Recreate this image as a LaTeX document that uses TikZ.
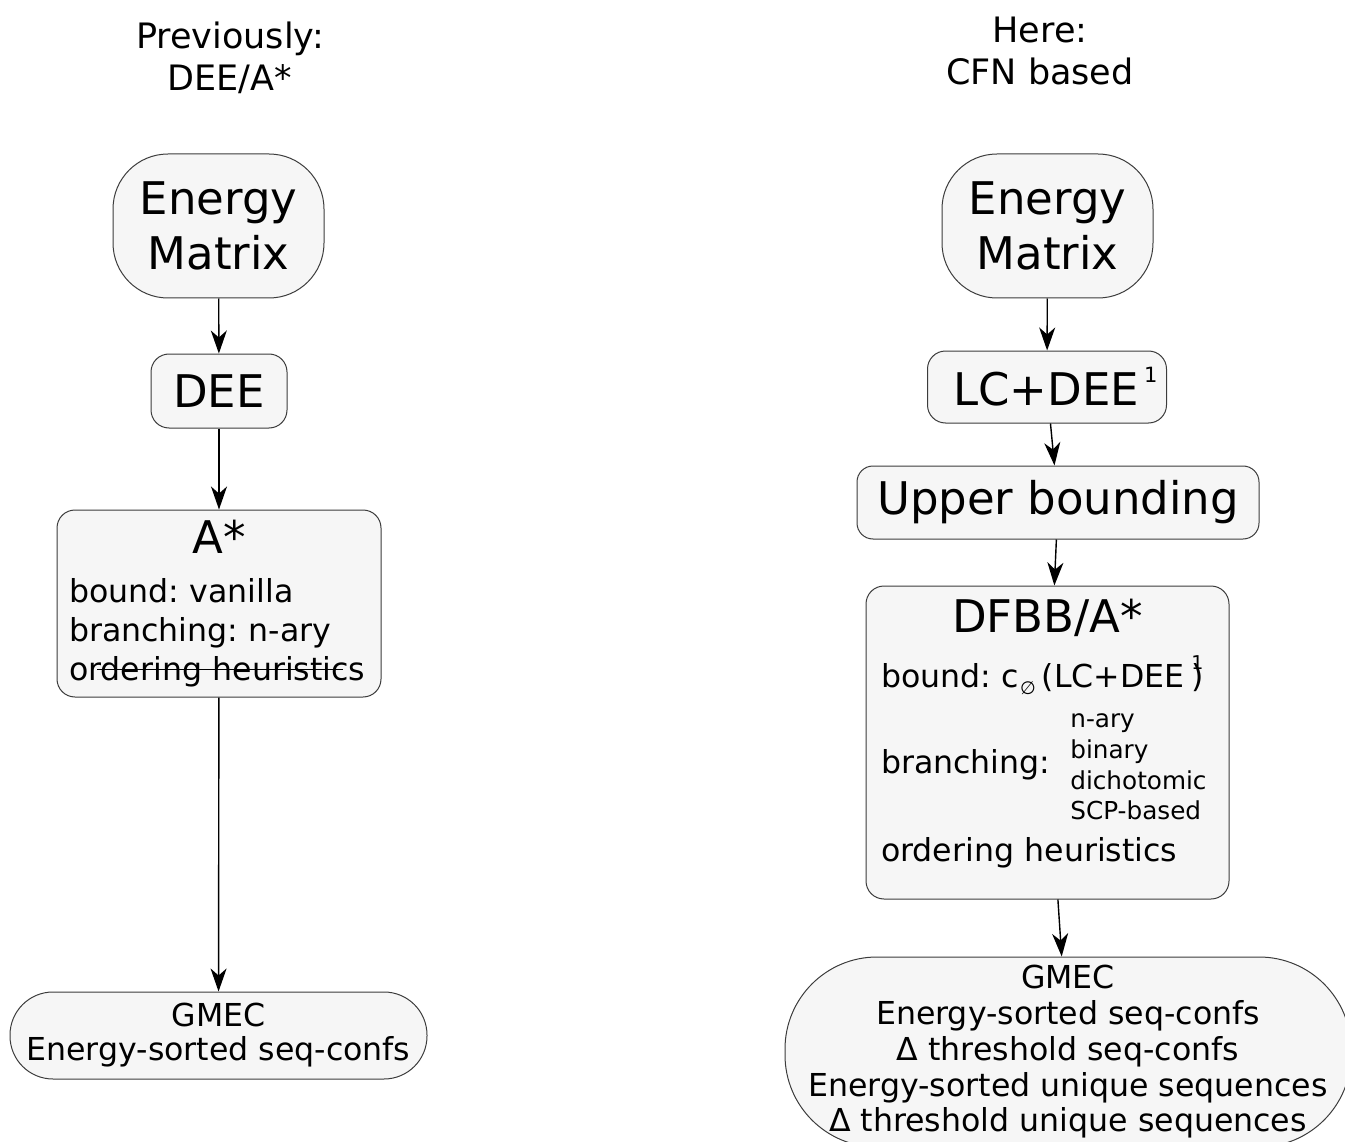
\documentclass[tikz,border=0pt]{standalone}
\usepackage{fontspec}
\setmainfont{DejaVu Sans}
\usetikzlibrary{arrows.meta}
\frenchspacing
\definecolor{boxfill}{HTML}{F6F6F6}
\definecolor{boxline}{HTML}{3C3C3C}
\newcommand{\fontbig}{\fontsize{45}{55}\selectfont}
\newcommand{\fontmid}{\fontsize{31.6}{39}\selectfont}
\newcommand{\fontsmall}{\fontsize{24.7}{30.7}\selectfont}
\newcommand{\fonttitle}{\fontsize{35}{42}\selectfont}
\tikzset{
    flow-box/.style = {draw=boxline, fill=boxfill, line width=1pt, rectangle, rounded corners=18pt, inner sep=0pt, align=center, font=\fontbig},
    matrix-box/.style = {flow-box, rounded corners=55pt, minimum width=211pt, minimum height=144pt},
    list-box/.style = {flow-box, align=left, font=\fontmid},
    result-box/.style = {flow-box, font=\fontmid},
    title-text/.style = {align=center, font=\fonttitle},
    flow-arrow/.style = {-{Stealth[length=23pt, width=16pt, inset=7pt]}, line width=1.4pt},
}

\begin{document}
\begin{tikzpicture}[x=1pt, y=-1pt]
\useasboundingbox (0,0) rectangle (1345,1142);
\clip (0,0) rectangle (1345,1142);

\node[title-text] (title-prev) at (230,58) {Previously:\\DEE/A*};
\node[title-text] (title-cfn) at (1040,51) {Here:\\CFN based};

\node[matrix-box] (em-prev) at (218.5,226) {Energy\\Matrix};
\node[flow-box, minimum width=136pt, minimum height=74pt] (dee) at (219,391) {DEE};
\node[list-box, text width=300pt, inner xsep=12pt, minimum height=187pt] (astar) at (219,603.5) {\makebox[300pt]{\fontbig A*}\\[10pt]
    bound: vanilla\\
    branching: n-ary\\
    o\kern9pt\rlap{\rule[10.5pt]{246pt}{1.4pt}}\kern-9pt rdering heuristics};
\node[result-box, font=\fontsize{31.6}{34}\selectfont, rounded corners=43pt, minimum width=417pt, minimum height=87pt] (gmec-prev) at (218.5,1035.5) {GMEC\\Energy-sorted seq-confs};

\node[matrix-box] (em-cfn) at (1047.5,226) {Energy\\Matrix};
\node[flow-box, minimum width=239pt, minimum height=72pt] (lcdee) at (1047,387) {\hspace*{17pt}LC+DEE\hspace{5pt}\raisebox{23pt}{\fontsize{21}{21}\selectfont 1}};
\node[flow-box, rounded corners=16pt, minimum width=402pt, minimum height=73pt] (upper) at (1058,502.5) {Upper bounding};
\node[list-box, text width=333pt, inner xsep=15pt, minimum height=313pt] (dfbb) at (1047.5,742.5) {\makebox[333pt]{\fontbig DFBB/A*}\\[16.5pt]
    bound: c\hspace{1pt}\raisebox{-7pt}{\fontsize{18}{18}\selectfont ∅}\hspace{6pt}(LC+DEE\hspace{7pt}\rlap{\raisebox{18pt}{\fontsize{19}{19}\selectfont 1}})\\[10pt]
    branching:\hspace{20pt}{\fontsmall\begin{tabular}[c]{@{}l@{}}n-ary\\ binary\\ dichotomic\\ SCP-based\end{tabular}}\\[8pt]
    ordering heuristics\rule[-24pt]{0pt}{1pt}};
\node[result-box, font=\fontsize{31.6}{35.75}\selectfont, rounded corners=92pt, minimum width=566pt, minimum height=190pt] (gmec-cfn) at (1068,1052) {GMEC\\Energy-sorted seq-confs\\Δ threshold seq-confs\\Energy-sorted unique sequences\\Δ threshold unique sequences};

\draw[flow-arrow] (em-prev) -- (dee);
\draw[flow-arrow] (dee) -- (astar);
\draw[flow-arrow] (astar) -- (gmec-prev);
\draw[flow-arrow] (em-cfn) -- (lcdee);
\draw[flow-arrow] (lcdee) -- (upper);
\draw[flow-arrow] (upper) -- (dfbb);
\draw[flow-arrow] (dfbb) -- (gmec-cfn);
\end{tikzpicture}
\end{document}
